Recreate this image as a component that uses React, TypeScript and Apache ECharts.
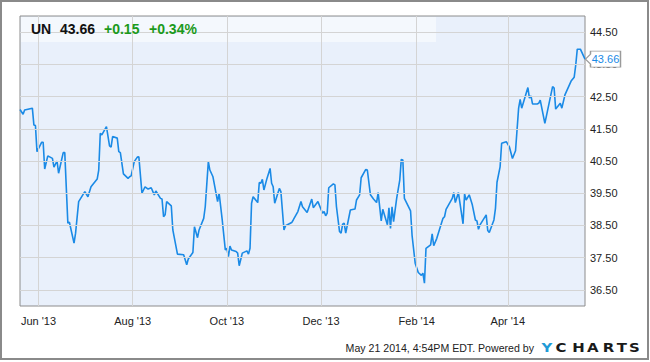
import React, { useEffect, useRef } from 'react';
import * as echarts from 'echarts';

// ---- data ----
// trading days, as day offsets from 2013-05-20
const startDate = '2013-05-20';
const endDate = '2014-05-21';
const dayOffsets = [
  0, 2, 3, 8, 9, 10, 11, 14, 15, 16,
  18, 21, 22, 24, 25, 28, 29, 31, 32, 35,
  36, 38, 42, 44, 46, 50, 51, 52, 53, 56,
  58, 59, 60, 63, 64, 65, 67, 70, 71, 72,
  74, 76, 77, 79, 81, 83, 85, 87, 88, 91,
  92, 93, 94, 95, 98, 99, 102, 106, 108, 109,
  112, 113, 115, 116, 119, 120, 122, 123, 125, 128,
  129, 131, 133, 134, 135, 136, 137, 140, 141, 142,
  144, 147, 148, 149, 150, 151, 154, 155, 156, 157,
  158, 160, 162, 163, 164, 165, 168, 169, 171, 172,
  176, 177, 180, 182, 183, 186, 189, 190, 193, 196,
  197, 198, 199, 200, 203, 204, 205, 207, 208, 209,
  210, 211, 214, 217, 218, 220, 221, 224, 225, 227,
  229, 231, 232, 234, 235, 238, 239, 240, 241, 242,
  244, 246, 247, 248, 249, 253, 254, 256, 258, 260,
  261, 262, 263, 266, 267, 268, 270, 274, 275, 276,
  280, 281, 282, 284, 287, 288, 289, 291, 293, 295,
  296, 297, 298, 302, 303, 304, 307, 308, 309, 311,
  312, 315, 317, 319, 321, 323, 324, 325, 329, 330,
  331, 332, 335, 336, 337, 340, 345, 346, 347, 350,
  351, 353, 357, 359, 360, 361, 363, 366,
];
const prices = [
  42.10, 41.95, 42.08, 42.14, 41.62, 41.60, 40.79, 41.08, 41.08, 40.25,
  40.66, 40.58, 40.31, 40.50, 40.12, 40.76, 40.76, 38.57, 38.60, 37.95,
  38.26, 39.24, 39.55, 39.39, 39.70, 39.94, 40.22, 41.36, 41.31, 41.57,
  40.97, 40.93, 41.26, 41.21, 40.79, 40.76, 40.10, 39.96, 40.01, 40.04,
  40.48, 40.62, 40.63, 39.50, 39.70, 39.63, 39.67, 39.45, 39.57, 39.34,
  39.32, 38.77, 38.83, 39.24, 39.11, 38.36, 37.61, 37.59, 37.28, 37.46,
  37.66, 38.46, 38.12, 38.36, 38.72, 39.08, 40.48, 40.22, 40.01, 39.24,
  39.50, 38.67, 37.74, 37.79, 37.53, 37.86, 37.74, 37.69, 37.64, 37.25,
  37.64, 37.71, 37.61, 37.79, 39.19, 39.39, 39.21, 39.83, 39.81, 39.93,
  39.60, 39.96, 40.27, 39.81, 39.70, 39.19, 39.65, 39.55, 38.36, 38.49,
  38.59, 38.67, 38.93, 39.24, 39.08, 38.90, 39.32, 39.05, 39.24, 38.88,
  38.93, 38.80, 38.88, 39.67, 39.79, 39.76, 39.08, 38.31, 38.26, 38.54,
  38.57, 38.26, 38.98, 39.01, 39.29, 39.45, 39.98, 40.24, 40.22, 39.45,
  39.32, 39.21, 39.52, 38.64, 39.00, 38.52, 39.05, 38.41, 39.08, 38.62,
  39.34, 39.91, 40.55, 40.53, 39.34, 38.95, 38.18, 37.33, 37.04, 36.95,
  37.02, 36.71, 37.79, 37.90, 38.24, 37.87, 38.10, 38.72, 38.77, 39.00,
  39.34, 39.52, 39.21, 39.52, 38.55, 39.48, 39.29, 39.45, 39.14, 38.67,
  38.64, 38.38, 38.52, 38.83, 38.34, 38.28, 38.67, 39.03, 39.84, 40.32,
  41.05, 41.10, 40.94, 40.58, 40.82, 42.14, 42.41, 42.14, 42.78, 42.45,
  42.52, 42.27, 42.27, 42.29, 42.39, 41.67, 42.81, 42.76, 42.11, 42.29,
  42.14, 42.55, 42.98, 43.10, 43.48, 43.97, 43.97, 43.66,
];
const xTickDates = ['2013-06-01', '2013-08-01', '2013-10-01', '2013-12-01', '2014-02-01', '2014-04-01'];
const xTickLabels = ["Jun '13", "Aug '13", "Oct '13", "Dec '13", "Feb '14", "Apr '14"];
const yTickValues = [36.5, 37.5, 38.5, 39.5, 40.5, 41.5, 42.5, 43.5, 44.5];
const yMin = 36;
const yMax = 45;
const ticker = 'UN';
const lastPrice = '43.66';
const change = '+0.15';
const changePct = '+0.34%';
const footerText = 'May 21 2014, 4:54PM EDT. Powered by';
const logoLetters = ['Y', 'C', 'H', 'A', 'R', 'T', 'S'];

const FONT = "'Liberation Sans', Arial, sans-serif";
const LOGO_FONT = "'DejaVu Sans', 'Liberation Sans', sans-serif";
const LOGO_CENTERS = [546.9, 561, 578.5, 592.7, 608.5, 621.9, 634.3];

function toTime(s: string): number {
  const [y, m, d] = s.split('-').map(Number);
  return new Date(y, m - 1, d).getTime();
}

export default function App() {
  const ref = useRef<HTMLDivElement>(null);

  useEffect(() => {
    if (!ref.current) return;
    const chart = echarts.init(ref.current, undefined, { renderer: 'svg' });
    const [sy, sm, sd] = startDate.split('-').map(Number);
    const lineData = dayOffsets.map((d, i) => [new Date(sy, sm - 1, sd + d).getTime(), prices[i]]);
    const xTicks = xTickDates.map(toTime);
    const last = lineData[lineData.length - 1];

    const logo = logoLetters.map((ch, i) => ({
      type: 'text', silent: true, z: 6, x: LOGO_CENTERS[i], y: 347.5, scaleX: 1.15,
      style: {
        text: ch, font: `bold 13px ${LOGO_FONT}`, fill: i === 0 ? '#1f9bd7' : '#1a1a1a',
        verticalAlign: 'middle', align: 'center',
      },
    }));

    const option: any = {
      animation: false,
      textStyle: { fontFamily: FONT },
      grid: {
        left: 20, right: 65, top: 16, bottom: 56,
        show: true, backgroundColor: '#e9f0fb', borderColor: '#8c8c8c', borderWidth: 1,
      },
      xAxis: {
        type: 'value',
        min: toTime(startDate),
        max: toTime(endDate),
        axisLine: { show: false },
        axisTick: { show: false },
        splitLine: { show: false },
        axisLabel: {
          customValues: xTicks,
          formatter: (v: number) => {
            const i = xTicks.findIndex((t) => Math.abs(t - v) < 3600000);
            return i >= 0 ? xTickLabels[i] : '';
          },
          color: '#222', fontSize: 11, margin: 9, fontFamily: FONT, hideOverlap: false,
        },
      },
      yAxis: {
        type: 'value',
        position: 'right',
        min: yMin,
        max: yMax,
        axisLine: { show: false },
        axisTick: { show: false },
        splitLine: { show: false },
        axisLabel: {
          customValues: yTickValues,
          formatter: (v: number) => v.toFixed(2),
          color: '#222', fontSize: 11, margin: 5, fontFamily: FONT,
        },
      },
      series: [
        {
          type: 'line',
          data: lineData,
          showSymbol: false,
          silent: true,
          z: 1,
          lineStyle: { opacity: 0 },
          markLine: {
            silent: true,
            symbol: ['none', 'none'],
            label: { show: false },
            lineStyle: { color: '#d4d4d4', width: 1, type: 'solid' },
            emphasis: { disabled: true },
            data: [
              ...xTicks.map((t) => ({ xAxis: t })),
              ...yTickValues.map((v) => ({ yAxis: v })),
            ],
          },
        },
        {
          type: 'line',
          data: lineData,
          showSymbol: false,
          silent: true,
          z: 3,
          lineStyle: { color: '#1a8ae6', width: 1.6 },
          itemStyle: { color: '#1a8ae6' },
          markPoint: {
            silent: true,
            symbol: 'path://M0,8L5,3L5,0L35,0L35,16L5,16L5,13Z',
            symbolSize: [35, 16],
            symbolKeepAspect: false,
            symbolOffset: [18, 0],
            itemStyle: { color: '#ffffff', borderColor: '#9a9a9a', borderWidth: 1 },
            label: {
              show: true, position: 'inside', offset: [2.5, 0],
              formatter: lastPrice, color: '#1a8ae6', fontSize: 11, fontFamily: FONT,
            },
            data: [{ coord: last }],
          },
        },
      ],
      graphic: [
        {
          type: 'rect', silent: true, z: 5,
          shape: { x: 21, y: 17, width: 415, height: 25 },
          style: { fill: 'rgba(255,255,255,0.5)' },
        },
        {
          type: 'text', silent: true, z: 6, x: 31, y: 29,
          style: { text: ticker, font: `bold 14px ${FONT}`, fill: '#111', verticalAlign: 'middle', align: 'left' },
        },
        {
          type: 'text', silent: true, z: 6, x: 60, y: 29,
          style: { text: lastPrice, font: `bold 14px ${FONT}`, fill: '#111', verticalAlign: 'middle', align: 'left' },
        },
        {
          type: 'text', silent: true, z: 6, x: 104, y: 29,
          style: { text: change, font: `bold 14px ${FONT}`, fill: '#1b9a1b', verticalAlign: 'middle', align: 'left' },
        },
        {
          type: 'text', silent: true, z: 6, x: 149, y: 29,
          style: { text: changePct, font: `bold 14px ${FONT}`, fill: '#1b9a1b', verticalAlign: 'middle', align: 'left' },
        },
        {
          type: 'text', silent: true, z: 6, x: 534, y: 348,
          style: { text: footerText, font: `10.6px ${FONT}`, fill: '#222', verticalAlign: 'middle', align: 'right' },
        },
        ...logo,
        {
          type: 'rect', silent: true, z: 10,
          shape: { x: 1, y: 1, width: 647, height: 358 },
          style: { fill: 'none', stroke: '#8a8a8a', lineWidth: 2 },
        },
      ],
    };
    chart.setOption(option);
    return () => chart.dispose();
  }, []);

  return (
    <div
      ref={ref}
      style={{ position: 'absolute', left: 0, top: 0, width: 650, height: 362, background: '#ffffff' }}
    />
  );
}
